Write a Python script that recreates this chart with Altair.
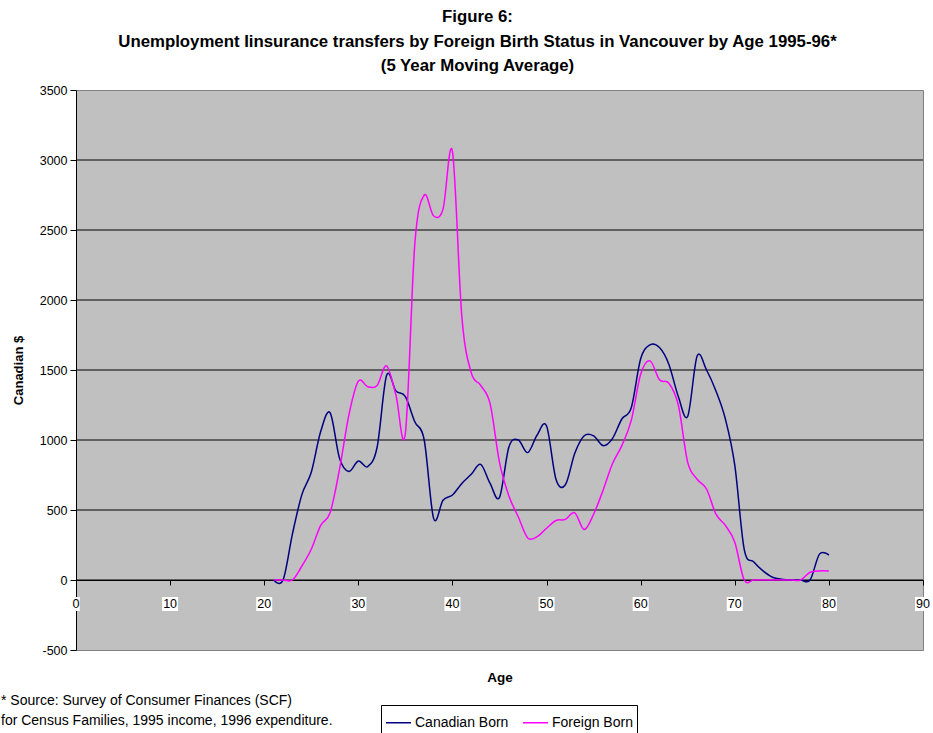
import altair as alt
import pandas as pd

# Five-year moving averages of UI transfers (Canadian $) by age
ages = list(range(21, 81))
canadian_born = [0, 0, 330, 610, 770, 1060, 1195, 870, 775, 850,
                 810, 950, 1460, 1350, 1310, 1130, 1000, 440, 570, 607,
                 690, 755, 826, 690, 590, 950, 1000, 910, 1036, 1100,
                 720, 680, 905, 1030, 1030, 960, 1010, 1150, 1230, 1580,
                 1680, 1660, 1540, 1310, 1170, 1600, 1500, 1350, 1150, 820,
                 220, 130, 65, 20, 5, 0, 0, 0, 185, 178]
foreign_born = [0, 0, 0, 100, 220, 390, 480, 790, 1180, 1420,
                1380, 1390, 1530, 1320, 1050, 2400, 2750, 2600, 2650, 3060,
                1880, 1480, 1390, 1260, 840, 600, 450, 300, 310, 370,
                425, 433, 480, 360, 470, 640, 830, 960, 1140, 1470,
                1565, 1430, 1405, 1250, 840, 720, 650, 470, 390, 270,
                0, 0, 0, 0, 0, 0, 0, 55, 65, 64]

series_names = ["Canadian Born", "Foreign Born"]
series_colors = ["#000080", "#FF00FF"]
x_ticks = [0, 10, 20, 30, 40, 50, 60, 70, 80, 90]
y_ticks = [-500, 0, 500, 1000, 1500, 2000, 2500, 3000, 3500]
title_lines = [
    "Figure 6:",
    "Unemployment Iinsurance transfers by Foreign Birth Status in Vancouver by Age 1995-96*",
    "(5 Year Moving Average)",
]
source_note = ("* Source: Survey of Consumer Finances (SCF)\n"
               "for Census Families, 1995 income, 1996 expenditure.")

FONT = "Liberation Sans"
W, H = 847, 560
X_MIN, X_MAX = 0, 90
Y_MIN, Y_MAX = y_ticks[0], y_ticks[-1]
zero_offset = -(H - H * (Y_MAX - 0) / (Y_MAX - Y_MIN))  # x axis sits on the zero line

x_scale = alt.Scale(domain=[X_MIN, X_MAX], nice=False, zero=False)
y_scale = alt.Scale(domain=[Y_MIN, Y_MAX], nice=False, zero=False)

y_axis = alt.Axis(
    values=y_ticks, grid=False, tickSize=6, tickColor="black",
    domainColor="black", labelFont=FONT, labelFontSize=12.5,
    labelColor="black", labelPadding=3, labelExpr="'' + datum.value",
    title="Canadian $", titleFont=FONT, titleFontSize=13, titleFontWeight="bold",
    titleColor="black", titleX=-58, titleY=H / 2, titleBaseline="middle",
    titleAlign="center",
)
x_axis = alt.Axis(
    values=x_ticks, labels=False, grid=False, offset=zero_offset,
    tickSize=5, tickColor="black", domainColor="black",
    title="Age", titleFont=FONT, titleFontSize=13.5, titleFontWeight="bold",
    titleColor="black", titleBaseline="middle", titleY=97,
)

long = pd.DataFrame({
    "Age": ages + ages,
    "Value": canadian_born + foreign_born,
    "Series": [series_names[0]] * len(ages) + [series_names[1]] * len(ages),
})

# horizontal gridlines (outer ones are the plot border)
grid = alt.Chart(pd.DataFrame({"v": y_ticks[1:-1]})).mark_rule(
    color="black", strokeWidth=1
).encode(y=alt.Y("v:Q", scale=y_scale, axis=y_axis, title="Canadian $"))

lines = alt.Chart(long).mark_line(strokeWidth=1.5, interpolate="cardinal").encode(
    x=alt.X("Age:Q", scale=x_scale, axis=x_axis, title="Age"),
    y=alt.Y("Value:Q", scale=y_scale, axis=y_axis, title="Canadian $"),
    color=alt.Color(
        "Series:N",
        scale=alt.Scale(domain=series_names, range=series_colors),
        legend=alt.Legend(
            title=None, orient="none", direction="horizontal",
            legendX=305, legendY=615, padding=4,
            strokeColor="black", fillColor="white",
            symbolType="stroke", symbolSize=625, symbolStrokeWidth=1.5,
            labelFont=FONT, labelFontSize=14, labelColor="black",
            labelOffset=3, columnPadding=11, labelLimit=200,
        ),
    ),
)

# x tick labels sit on white boxes just under the zero line
tick_df = pd.DataFrame({"t": x_ticks, "label": [str(t) for t in x_ticks]})
label_boxes = []
for n_chars in sorted(set(len(s) for s in tick_df["label"])):
    half = (8.5 * n_chars - 1) / 2
    label_boxes.append(
        alt.Chart(tick_df[tick_df["label"].str.len() == n_chars]).mark_rect(
            fill="white", xOffset=-half, x2Offset=half, yOffset=17, y2Offset=31
        ).encode(
            x=alt.X("t:Q", scale=x_scale, axis=x_axis, title="Age"), x2="t:Q",
            y=alt.datum(0, scale=y_scale), y2=alt.datum(0),
        )
    )

tick_labels = alt.Chart(tick_df).mark_text(
    font=FONT, fontSize=12.5, color="black", baseline="middle", dy=24
).encode(
    x=alt.X("t:Q", scale=x_scale, axis=x_axis, title="Age"),
    y=alt.datum(0, scale=y_scale),
    text="label:N",
)

note = alt.Chart(pd.DataFrame({"txt": [source_note]})).mark_text(
    font=FONT, fontSize=14, color="black", align="left", baseline="middle",
    lineBreak="\n", lineHeight=20,
).encode(x=alt.value(-75), y=alt.value(611), text="txt:N")

chart = alt.layer(grid, *label_boxes, tick_labels, lines, note).properties(
    width=W, height=H,
    autosize=alt.AutoSizeParams(type="none"),
    padding={"left": 76, "top": 90, "right": 10, "bottom": 83},
    title=alt.TitleParams(
        text=title_lines, font=FONT, fontSize=16.8, fontWeight="bold", color="black",
        lineHeight=24.5, anchor="middle", dx=-22, offset=9,
    ),
    background="white",
).configure_view(fill="#C0C0C0", stroke="#808080", strokeWidth=1)

chart.save("out.html", embed_options={"renderer": "svg", "actions": False})
